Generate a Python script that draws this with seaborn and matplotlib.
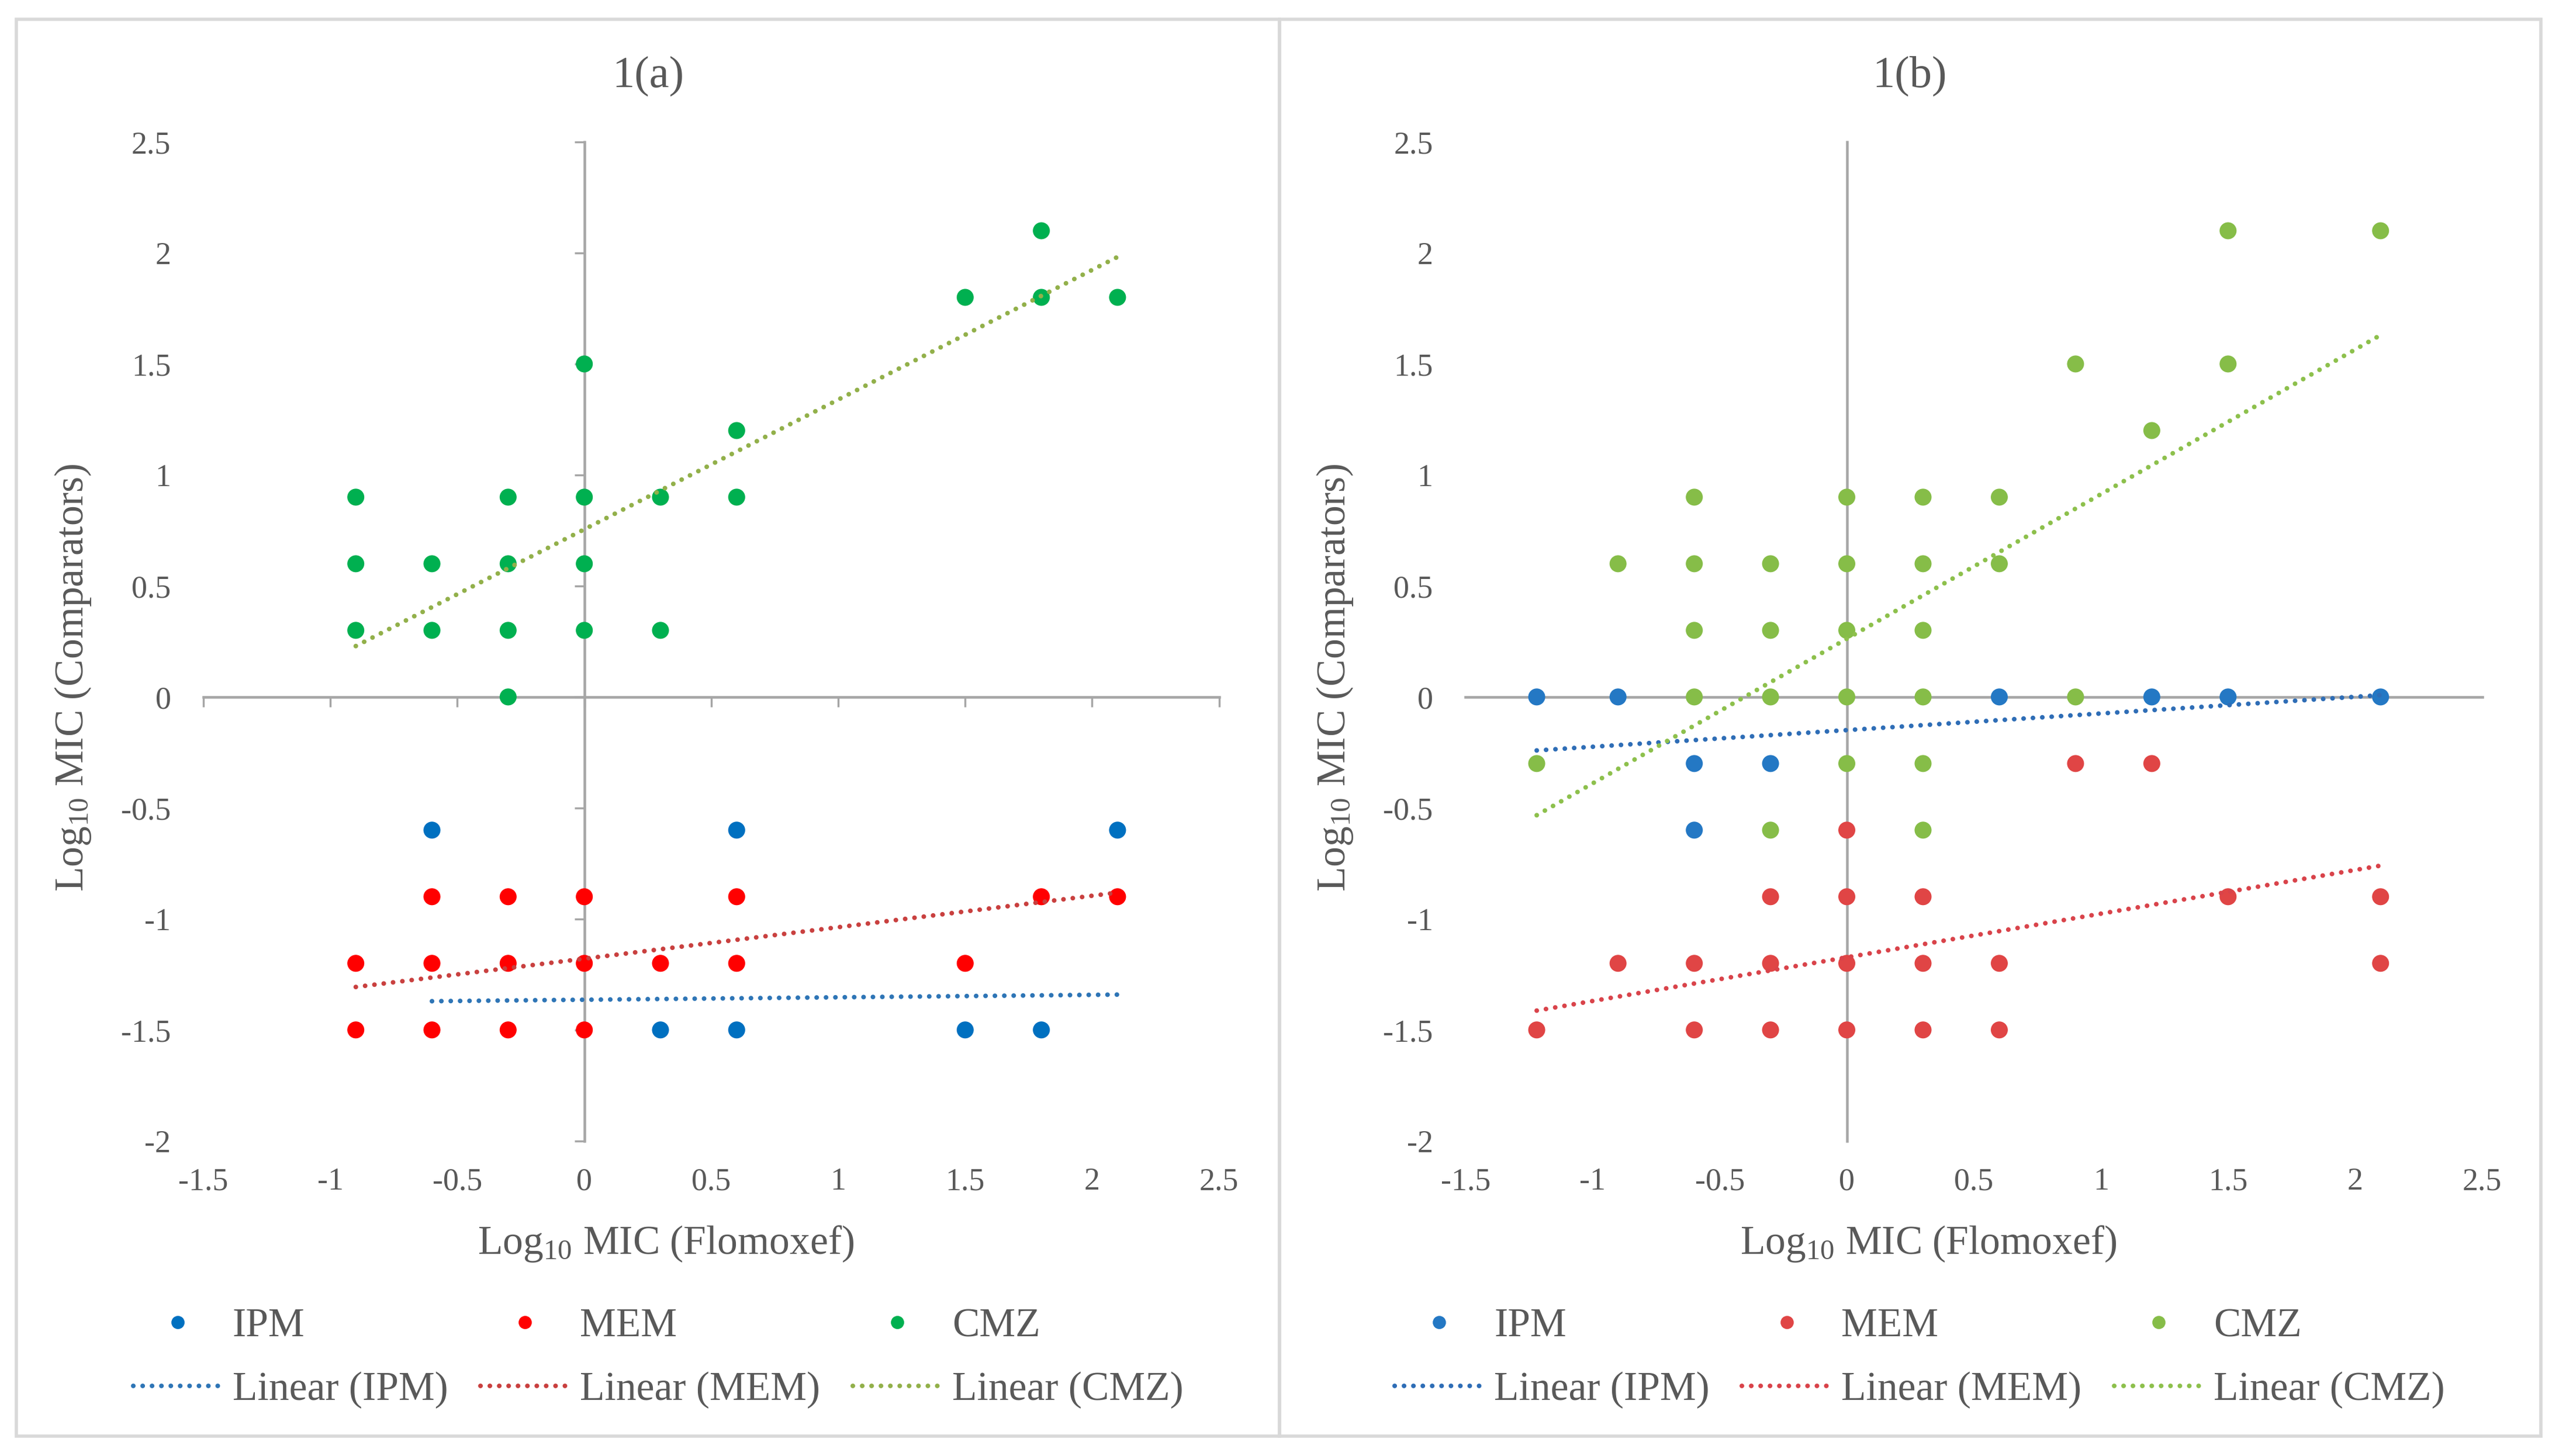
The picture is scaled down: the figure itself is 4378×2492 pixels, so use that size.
import numpy as np
import pandas as pd
import matplotlib
matplotlib.use("Agg")
import matplotlib.pyplot as plt
from matplotlib.patches import Rectangle
from matplotlib.lines import Line2D
import seaborn as sns

# Panel 1(a) data (log10 MIC)
a_ipm_x = [-0.6, 0.6, 2.1, 0.3, 0.6, 1.5, 1.8]
a_ipm_y = [-0.6, -0.6, -0.6, -1.5, -1.5, -1.5, -1.5]
a_mem_x = [-0.6, -0.3, 0.0, 0.6, 1.8, 2.1,
           -0.9, -0.6, -0.3, 0.0, 0.3, 0.6, 1.5,
           -0.9, -0.6, -0.3, 0.0]
a_mem_y = [-0.9, -0.9, -0.9, -0.9, -0.9, -0.9,
           -1.2, -1.2, -1.2, -1.2, -1.2, -1.2, -1.2,
           -1.5, -1.5, -1.5, -1.5]
a_cmz_x = [-0.9, -0.9, -0.9, -0.6, -0.6, -0.3, -0.3, -0.3, -0.3,
           0.0, 0.0, 0.0, 0.0, 0.3, 0.3, 0.6, 0.6, 1.5, 1.8, 1.8, 2.1]
a_cmz_y = [0.9, 0.6, 0.3, 0.6, 0.3, 0.9, 0.6, 0.3, 0.0,
           1.5, 0.9, 0.6, 0.3, 0.9, 0.3, 1.2, 0.9, 1.8, 2.1, 1.8, 1.8]

# Panel 1(b) data
b_ipm_x = [-1.22, -0.9, -0.6, -0.6, -0.3, 0.6, 1.2, 1.5, 2.1]
b_ipm_y = [0.0, 0.0, -0.3, -0.6, -0.3, 0.0, 0.0, 0.0, 0.0]
b_mem_x = [0.9, 1.2, 0.0, -0.3, 0.0, 0.3, 1.5, 2.1,
           -0.9, -0.6, -0.3, 0.0, 0.3, 0.6, 2.1,
           -1.22, -0.6, -0.3, 0.0, 0.3, 0.6]
b_mem_y = [-0.3, -0.3, -0.6, -0.9, -0.9, -0.9, -0.9, -0.9,
           -1.2, -1.2, -1.2, -1.2, -1.2, -1.2, -1.2,
           -1.5, -1.5, -1.5, -1.5, -1.5, -1.5]
b_cmz_x = [-1.22, -0.9, -0.6, -0.6, -0.6, -0.6, -0.3, -0.3, -0.3, -0.3,
           0.0, 0.0, 0.0, 0.0, 0.0, 0.3, 0.3, 0.3, 0.3, 0.3, 0.3,
           0.6, 0.6, 0.9, 0.9, 1.2, 1.5, 1.5, 2.1]
b_cmz_y = [-0.3, 0.6, 0.9, 0.6, 0.3, 0.0, 0.6, 0.3, 0.0, -0.6,
           0.9, 0.6, 0.3, 0.0, -0.3, 0.9, 0.6, 0.3, 0.0, -0.3, -0.6,
           0.9, 0.6, 1.5, 0.0, 1.2, 2.1, 1.5, 2.1]

drugs = ["IPM", "MEM", "CMZ"]
# Excel linear trendline coefficients (slope, intercept)
a_slope = [0.011, 0.1417, 0.5843]
a_icept = [-1.364, -1.179, 0.755]
b_slope = [0.075, 0.1967, 0.6515]
b_icept = [-0.1495, -1.173, 0.262]

a_dot_colors = ["#0070C0", "#FF0000", "#00B050"]
a_line_colors = ["#2E75B6", "#C9403F", "#92B04A"]
b_dot_colors = ["#2478C4", "#E04545", "#86BD48"]
b_line_colors = ["#2E6DB6", "#D9434A", "#8DC04C"]

ticks = [-1.5, -1, -0.5, 0, 0.5, 1, 1.5, 2, 2.5]
yticks = [-2, -1.5, -1, -0.5, 0, 0.5, 1, 1.5, 2, 2.5]

sns.set_style("white")
plt.rcParams["font.family"] = ["Liberation Serif", "DejaVu Serif"]
plt.rcParams["mathtext.fontset"] = "custom"
plt.rcParams["mathtext.rm"] = "Liberation Serif"
plt.rcParams["mathtext.it"] = "Liberation Serif:italic"

TXT = "#595959"
AX = "#A6A6A6"
dotted = (0, (0.01, 2.0))


def to_frame(xs, ys):
    rows = []
    for d, x, y in zip(drugs, xs, ys):
        rows.append(pd.DataFrame({"x": x, "y": y, "drug": d}))
    return pd.concat(rows, ignore_index=True)


def draw_panel(ax, df, slopes, icepts, dot_cols, line_cols, with_ticks):
    pal = dict(zip(drugs, dot_cols))
    sns.scatterplot(data=df, x="x", y="y", hue="drug", palette=pal, s=70,
                    edgecolor="none", ax=ax, legend=False, zorder=3)
    for d, m, c, lc in zip(drugs, slopes, icepts, line_cols):
        sub = df[df["drug"] == d]
        xs = np.array([sub["x"].min(), sub["x"].max()])
        sns.lineplot(x=xs, y=m * xs + c, ax=ax, color=lc, lw=2.3,
                     linestyle=dotted, dash_capstyle="round", zorder=4)
    ax.set_xlim(-1.5, 2.5)
    ax.set_ylim(-2, 2.5)
    ax.set_xticks(ticks)
    ax.set_yticks(yticks)
    for s in ["top", "right"]:
        ax.spines[s].set_visible(False)
    ax.spines["left"].set_position("zero")
    ax.spines["bottom"].set_position("zero")
    for s in ["left", "bottom"]:
        ax.spines[s].set_color(AX)
        ax.spines[s].set_linewidth(1.3)
        ax.spines[s].set_zorder(1)
    ax.tick_params(labelbottom=False, labelleft=False, direction="out",
                   length=5 if with_ticks else 0, width=1.0, color=AX,
                   bottom=True, left=True)
    ax.set_xlabel("")
    ax.set_ylabel("")

    # Excel-style tick labels at the low edge of the plot area
    sx = ax.secondary_xaxis("bottom")
    sx.set_xticks(ticks)
    sx.set_xticklabels([f"{t:g}" for t in ticks])
    sx.tick_params(length=0, pad=13, labelsize=15.5, labelcolor=TXT)
    sx.spines["bottom"].set_visible(False)
    sx.set_xlabel("Log$_{\\mathregular{10}}$ MIC (Flomoxef)", fontsize=20, color=TXT)
    sx.xaxis.set_label_coords(0.455, -0.083, transform=ax.transAxes)
    sy = ax.secondary_yaxis("left")
    sy.set_yticks(yticks)
    sy.set_yticklabels([f"{t:g}" for t in yticks])
    sy.tick_params(length=0, pad=16, labelsize=15.5, labelcolor=TXT)
    sy.spines["left"].set_visible(False)
    sy.set_ylabel("Log$_{\\mathregular{10}}$ MIC (Comparators)", fontsize=20, color=TXT)
    sy.yaxis.set_label_coords(-0.109, 0.464, transform=ax.transAxes)


def add_legend(fig, x0, dot_cols, line_cols):
    handles, labels = [], []
    for d, dc, lc in zip(drugs, dot_cols, line_cols):
        handles.append(Line2D([], [], marker="o", ls="none", color=dc, markersize=5.5))
        labels.append(d)
        handles.append(Line2D([], [], color=lc, lw=2.3, linestyle=dotted,
                              dash_capstyle="round"))
        labels.append(f"Linear ({d})")
    fig.legend(handles, labels, ncol=3, loc="center left",
               bbox_to_anchor=(x0, 0.067), frameon=False, fontsize=20,
               labelcolor=TXT, handlelength=2.2, handletextpad=0.25,
               columnspacing=0.8, labelspacing=0.65, borderpad=0.0,
               borderaxespad=0.0)


fig = plt.figure(figsize=(17.512, 9.968), dpi=250)
ax_a = fig.add_axes([0.0795, 0.2164, 0.3969, 0.6861])
ax_b = fig.add_axes([0.5727, 0.2164, 0.3973, 0.6861])

df_a = to_frame([a_ipm_x, a_mem_x, a_cmz_x], [a_ipm_y, a_mem_y, a_cmz_y])
df_b = to_frame([b_ipm_x, b_mem_x, b_cmz_x], [b_ipm_y, b_mem_y, b_cmz_y])

draw_panel(ax_a, df_a, a_slope, a_icept, a_dot_colors, a_line_colors, True)
draw_panel(ax_b, df_b, b_slope, b_icept, b_dot_colors, b_line_colors, False)

fig.text(0.2532, 0.9475, "1(a)", ha="center", va="center", fontsize=22, color=TXT)
fig.text(0.7462, 0.9475, "1(b)", ha="center", va="center", fontsize=22, color=TXT)

add_legend(fig, 0.052, a_dot_colors, a_line_colors)
add_legend(fig, 0.545, b_dot_colors, b_line_colors)

# chart-area frames
frame_kw = dict(transform=fig.transFigure, fill=False, edgecolor="#D9D9D9", lw=1.6)
fig.add_artist(Rectangle((0.0064, 0.0135), 0.4936, 0.9731, **frame_kw))
fig.add_artist(Rectangle((0.5, 0.0135), 0.4930, 0.9731, **frame_kw))

fig.savefig("out.png", dpi=250, facecolor="white")
